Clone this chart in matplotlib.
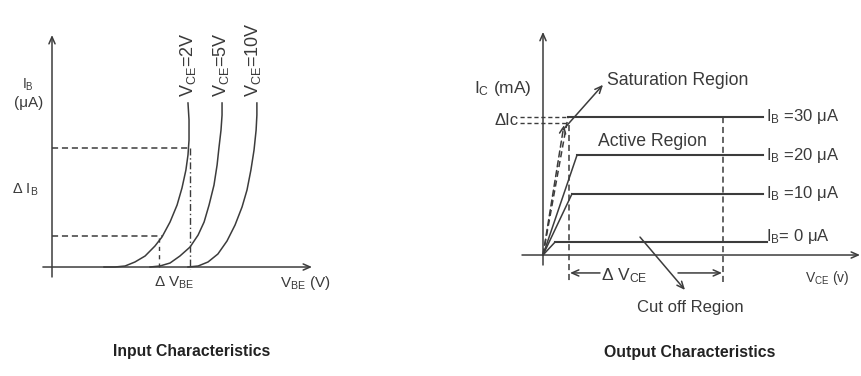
import matplotlib
matplotlib.use('Agg')
import matplotlib.pyplot as plt

plt.rcParams['font.family'] = ['Liberation Sans', 'DejaVu Sans']
plt.rcParams['mathtext.default'] = 'regular'

INK = '#3c3c3c'
TXT = '#3a3a3a'

# input characteristics: V_BE (V) vs I_B (uA), one curve per V_CE
vce_labels = ['V$_{CE}$=2V', 'V$_{CE}$=5V', 'V$_{CE}$=10V']
vbe_curves = [
    [0.20, 0.242, 0.281, 0.319, 0.358, 0.396, 0.423, 0.454, 0.481, 0.50, 0.515, 0.523,
     0.527, 0.527, 0.523],
    [0.377, 0.415, 0.454, 0.492, 0.531, 0.562, 0.585, 0.604, 0.623, 0.635, 0.642, 0.65,
     0.654, 0.654],
    [0.523, 0.562, 0.60, 0.638, 0.673, 0.704, 0.731, 0.75, 0.765, 0.777, 0.785, 0.788,
     0.788],
]
ib_curves = [
    [0.0, 0.0, 0.43, 2.16, 4.74, 9.05, 12.93, 19.4, 26.7, 34.1, 41.8, 48.3, 54.7, 63.4, 70.7],
    [0.0, 0.43, 1.72, 4.74, 8.62, 13.8, 19.4, 26.7, 35.3, 44.0, 51.3, 59.0, 65.5, 70.7],
    [0.0, 0.43, 2.16, 5.6, 11.2, 18.1, 25.9, 33.2, 41.8, 50.4, 59.0, 65.5, 70.7],
]
ib_hi, ib_lo = 51.3, 13.4
vbe_hi, vbe_lo = 0.527, 0.41

# output characteristics: V_CE (V) vs I_C (mA), one line per I_B
ib_levels = ['I$_B$ =30 μA', 'I$_B$ =20 μA', 'I$_B$ =10 μA', 'I$_B$= 0 μA']
ic_flat = [3.0, 2.17, 1.33, 0.28]
vce_knee = [1.25, 1.7, 1.45, 0.6]
vce_end = [11.0, 11.0, 11.0, 11.2]
ic_delta = [3.0, 2.87]
vce_lo, vce_hi = 1.3, 9.0

fig = plt.figure(figsize=(8.61, 3.76), dpi=100)
fig.patch.set_facecolor('white')

ax1 = fig.add_axes([0, 0, 430 / 861, 1])
ax2 = fig.add_axes([430 / 861, 0, 431 / 861, 1])
ax1.set_xlim(-0.2, 1.4538)
ax1.set_ylim(-46.98, 115.09)
ax2.set_xlim(-5.65, 15.9)
ax2.set_ylim(-2.63, 5.543)
for ax in (ax1, ax2):
    ax.axis('off')

ax_head = '->,head_length=0.5,head_width=0.22'


def arrow(ax, start, end, ls='-', style=ax_head):
    ax.annotate('', xy=end, xytext=start,
                arrowprops=dict(arrowstyle=style, color=INK, lw=1.1, linestyle=ls,
                                shrinkA=0, shrinkB=0))


# ---- input characteristics ----
arrow(ax1, (0, -4.3), (0, 100))
arrow(ax1, (-0.035, 0), (1.0, 0))

for v, i in zip(vbe_curves, ib_curves):
    ax1.plot(v, i, color=INK, lw=1.1, solid_joinstyle='round')

ax1.plot([0, vbe_hi], [ib_hi, ib_hi], color=INK, lw=1.1, dashes=(4, 2.5))
ax1.plot([0, 0.423], [ib_lo, ib_lo], color=INK, lw=1.1, dashes=(4, 2.5))
ax1.plot([vbe_hi + 0.004, vbe_hi + 0.004], [ib_hi, -1], color=INK, lw=1.0,
         dashes=(5, 2, 1, 2))
ax1.plot([vbe_lo, vbe_lo], [ib_lo - 1, 0], color=INK, lw=1.0, dashes=(3, 3))

for x, lab in zip([0.523, 0.65, 0.773], vce_labels):
    ax1.text(x, 73.3, lab, rotation=90, ha='center', va='bottom', fontsize=13, color=TXT)

ax1.text(-0.092, 78.5, 'I$_B$', ha='center', va='center', fontsize=10, color=TXT)
ax1.text(-0.09, 70.7, '(μA)', ha='center', va='center', fontsize=11, color=TXT)
ax1.text(-0.104, 33.2, 'Δ I$_B$', ha='center', va='center', fontsize=10.5, color=TXT)
ax1.text(0.47, -6.9, 'Δ V$_{BE}$', ha='center', va='center', fontsize=11, color=TXT)
ax1.text(0.975, -6.9, 'V$_{BE}$ (V)', ha='center', va='center', fontsize=11, color=TXT)
ax1.text(0.538, -36.6, 'Input Characteristics', ha='center', va='center',
         fontsize=11.3, fontweight='bold', color='#222222')

# ---- output characteristics ----
arrow(ax2, (0, -0.217), (0, 4.85))
arrow(ax2, (-1.05, 0), (15.85, 0))

for k in range(len(ic_flat)):
    ls = (0, (4, 2.5)) if k == 0 else '-'
    ax2.plot([0, vce_knee[k]], [0, ic_flat[k]], color=INK, lw=1.1, linestyle=ls)
    ax2.plot([vce_knee[k], vce_end[k]], [ic_flat[k], ic_flat[k]], color=INK, lw=1.5)
    ax2.text(11.15, ic_flat[k] + (0.12 if k == 3 else 0.0), ib_levels[k],
             ha='left', va='center', fontsize=12, color=TXT)

arrow(ax2, (0, 0), (1.05, 2.83), ls=(0, (4, 2.5)))

for y in ic_delta:
    ax2.plot([-1.15, 1.15], [y, y], color=INK, lw=1.0, dashes=(3, 2))
ax2.plot([vce_lo, vce_lo], [2.83, -0.61], color=INK, lw=1.1, dashes=(4, 2.5))
ax2.plot([vce_hi, vce_hi], [3.0, -0.61], color=INK, lw=1.1, dashes=(4, 2.5))

arrow(ax2, (2.85, -0.39), (vce_lo + 0.05, -0.39))
arrow(ax2, (6.75, -0.39), (vce_hi - 0.05, -0.39))
ax2.text(4.05, -0.44, 'Δ V$_{CE}$', ha='center', va='center', fontsize=12.5, color=TXT)
ax2.text(14.2, -0.5, 'V$_{CE}$ (v)', ha='center', va='center', fontsize=10, color=TXT)

arrow(ax2, (1.0, 2.72), (3.0, 3.70))
ax2.text(3.2, 3.80, 'Saturation Region', ha='left', va='center', fontsize=12.7, color=TXT)
ax2.text(5.45, 2.46, 'Active Region', ha='center', va='center', fontsize=12.7, color=TXT)
arrow(ax2, (4.85, 0.39), (7.1, -0.76))
ax2.text(7.35, -1.15, 'Cut off Region', ha='center', va='center', fontsize=12, color=TXT)

ax2.text(-2.0, 3.63, 'I$_C$ (mA)', ha='center', va='center', fontsize=12.5, color=TXT)
ax2.text(-1.2, 2.93, 'ΔIc', ha='right', va='center', fontsize=12, color=TXT)
ax2.text(7.35, -2.11, 'Output Characteristics', ha='center', va='center',
         fontsize=11.4, fontweight='bold', color='#222222')

fig.savefig('out.png', dpi=100, facecolor='white')
